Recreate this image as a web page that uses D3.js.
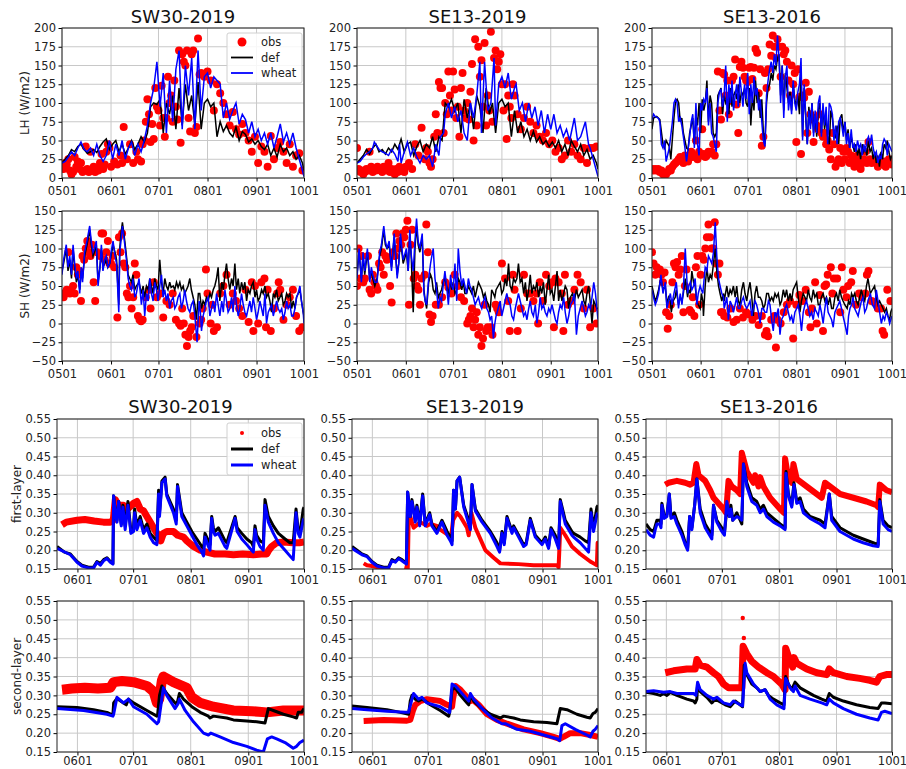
<!DOCTYPE html>
<html>
<head>
<meta charset="utf-8">
<script src="https://cdn.jsdelivr.net/npm/d3@7"></script>
<style>
body { margin: 0; background: #fff; }
svg { display: block; }
text { font-family: "DejaVu Sans", sans-serif; }
</style>
</head>
<body>
<div id="chart"></div>
<script>
// 站点与刻度
const sites = ['SW30-2019', 'SE13-2019', 'SE13-2016'];
const fluxTickDays = [0, 31, 61, 92, 123, 153];
const fluxTickLabels = ['0501', '0601', '0701', '0801', '0901', '1001'];
const soilTickDays = [31, 61, 92, 123, 153];
const soilTickLabels = ['0601', '0701', '0801', '0901', '1001'];
const lhTicks = [0, 25, 50, 75, 100, 125, 150, 175, 200];
const shTicks = [-50, -25, 0, 25, 50, 75, 100, 125, 150];
const smTicks = [0.15, 0.20, 0.25, 0.30, 0.35, 0.40, 0.45, 0.50, 0.55];
const seriesNames = ['obs', 'def', 'wheat'];

// LH —— [日序(0=0501), 值]
const lhObs1 = [[0,15],[1,12],[2,20],[3,18],[4,25],[5,10],[6,5],[7,8],[8,28],[9,15],[10,22],[11,12],[12,20],[13,8],[14,10],[15,42],[16,12],[17,8],[18,35],[19,10],[20,15],[21,8],[22,12],[23,10],[24,20],[25,32],[26,12],[27,18],[28,35],[29,45],[30,40],[31,15],[33,22],[35,18],[37,30],[38,20],[39,68],[41,25],[43,45],[45,20],[47,35],[48,25],[50,22],[51,45],[52,50],[53,75],[54,105],[55,85],[56,48],[57,72],[58,52],[59,120],[60,95],[61,90],[62,70],[63,123],[64,80],[65,55],[66,80],[67,135],[68,100],[69,110],[70,75],[71,130],[72,95],[73,78],[74,170],[75,47],[76,165],[77,155],[78,150],[79,170],[80,80],[81,62],[82,165],[83,170],[84,60],[85,68],[86,186],[87,138],[88,140],[90,135],[92,142],[94,130],[96,90],[98,125],[100,113],[102,100],[104,85],[106,70],[108,88],[110,65],[112,58],[114,72],[116,60],[118,50],[120,35],[122,55],[124,20],[126,42],[128,35],[130,15],[132,56],[134,25],[136,40],[138,48],[140,35],[142,20],[144,45],[146,15],[148,30],[150,33],[152,10]];
const lhDef1 = [[0,20],[2,25],[4,30],[6,38],[8,35],[10,42],[12,45],[14,38],[16,33],[18,35],[20,38],[22,34],[24,42],[26,48],[28,52],[30,38],[32,45],[34,50],[36,35],[38,45],[40,32],[42,40],[44,50],[46,38],[48,45],[50,55],[52,48],[54,60],[56,95],[58,100],[60,98],[62,105],[64,60],[66,100],[68,85],[70,110],[72,65],[74,120],[76,70],[78,125],[80,90],[82,110],[84,70],[86,128],[88,65],[90,100],[92,105],[94,95],[96,100],[98,55],[100,75],[102,62],[104,70],[106,60],[108,55],[110,68],[112,50],[114,62],[116,58],[118,48],[120,52],[122,45],[124,50],[126,42],[128,38],[130,45],[132,30],[134,40],[136,28],[138,45],[140,35],[142,40],[144,30],[146,35],[148,25],[150,30],[152,20],[153,10]];
const lhWheat1 = [[0,20],[2,22],[4,28],[6,35],[8,30],[10,40],[12,48],[14,38],[16,35],[18,40],[20,30],[22,45],[24,30],[26,22],[28,30],[30,50],[32,25],[34,45],[36,30],[38,50],[40,25],[42,40],[44,48],[46,30],[48,45],[50,35],[52,50],[54,70],[56,100],[58,120],[60,155],[62,95],[64,140],[66,60],[68,130],[70,75],[72,145],[74,170],[76,65],[78,150],[80,110],[82,160],[84,65],[86,170],[88,90],[90,135],[92,140],[94,120],[96,135],[98,130],[100,125],[102,80],[104,100],[106,78],[108,90],[110,100],[112,72],[114,85],[116,78],[118,60],[120,75],[122,55],[124,65],[126,50],[128,60],[130,45],[132,60],[134,40],[136,55],[138,72],[140,48],[142,60],[144,45],[146,60],[148,40],[150,25],[152,10],[153,2]];

const lhObs2 = [[0,40],[1,12],[2,8],[3,10],[4,5],[5,8],[6,12],[7,10],[8,35],[9,15],[10,8],[11,12],[12,10],[13,15],[14,12],[15,10],[16,8],[17,15],[18,12],[19,10],[20,20],[21,8],[22,12],[23,10],[24,5],[25,12],[26,8],[27,15],[28,10],[29,12],[30,8],[31,15],[33,20],[35,12],[37,45],[39,30],[41,67],[43,25],[44,40],[45,35],[46,20],[47,15],[48,25],[49,55],[50,85],[51,60],[52,128],[53,120],[54,120],[55,60],[56,100],[57,85],[58,142],[59,110],[60,90],[61,142],[62,118],[63,80],[64,95],[65,55],[66,120],[67,140],[68,90],[69,80],[70,100],[71,78],[72,115],[73,152],[74,50],[75,185],[76,70],[77,175],[78,135],[79,157],[80,95],[81,180],[82,70],[83,110],[84,90],[85,195],[86,75],[87,160],[88,170],[89,145],[90,155],[91,165],[92,125],[93,90],[94,125],[95,52],[96,110],[97,95],[98,80],[99,125],[100,110],[102,85],[104,65],[106,80],[108,95],[110,75],[112,60],[114,70],[116,55],[118,50],[120,60],[122,45],[124,50],[126,35],[128,40],[130,25],[132,30],[134,50],[136,35],[138,45],[140,30],[142,25],[144,40],[146,20],[148,40],[150,40],[152,42]];
const lhDef2 = [[0,20],[2,25],[4,30],[6,38],[8,32],[10,40],[12,45],[14,35],[16,38],[18,32],[20,40],[22,35],[24,45],[26,38],[28,52],[30,35],[32,45],[34,48],[36,30],[38,42],[40,50],[42,35],[44,45],[46,40],[48,55],[50,35],[52,55],[54,50],[56,100],[58,95],[60,105],[62,90],[64,100],[66,60],[68,105],[70,80],[72,100],[74,65],[76,110],[78,95],[80,60],[82,120],[84,85],[86,100],[88,60],[90,100],[92,105],[94,95],[96,100],[98,55],[100,90],[102,60],[104,75],[106,55],[108,65],[110,50],[112,62],[114,48],[116,55],[118,45],[120,50],[122,42],[124,48],[126,40],[128,50],[130,35],[132,45],[134,30],[136,50],[138,42],[140,35],[142,45],[144,30],[146,38],[148,25],[150,30],[152,20],[153,12]];
const lhWheat2 = [[0,20],[2,22],[4,28],[6,32],[8,35],[10,40],[11,48],[14,38],[16,35],[18,33],[20,30],[22,38],[24,32],[26,22],[27,45],[28,20],[30,35],[32,48],[34,30],[36,40],[38,28],[40,20],[42,30],[44,25],[46,30],[48,15],[50,45],[52,30],[53,55],[55,60],[56,85],[58,100],[60,80],[62,95],[64,75],[66,90],[68,60],[70,50],[72,100],[74,80],[76,110],[78,155],[79,60],[81,155],[83,90],[85,100],[87,160],[88,70],[90,125],[92,135],[94,120],[96,140],[98,105],[100,120],[101,125],[103,90],[105,100],[107,75],[109,100],[111,80],[113,95],[115,70],[117,90],[119,60],[121,85],[123,65],[125,85],[127,60],[129,70],[131,55],[133,65],[135,50],[138,80],[140,50],[142,55],[145,75],[147,45],[148,40],[150,25],[153,2]];

const lhObs3 = [[0,12],[1,10],[2,12],[3,10],[4,12],[5,8],[6,10],[7,5],[8,3],[9,5],[10,8],[11,12],[12,10],[13,15],[14,18],[15,20],[16,22],[17,25],[18,28],[19,25],[20,20],[21,30],[22,28],[23,22],[24,30],[25,35],[26,28],[27,30],[28,50],[29,25],[30,35],[31,30],[32,65],[33,32],[34,28],[35,30],[36,35],[37,33],[38,35],[39,45],[40,30],[41,45],[42,142],[43,90],[44,78],[45,140],[46,138],[47,110],[48,130],[49,85],[50,103],[51,130],[52,135],[53,158],[54,98],[55,60],[56,148],[57,155],[58,147],[59,135],[60,130],[61,128],[62,147],[63,148],[64,132],[65,147],[66,172],[67,167],[68,113],[69,145],[70,43],[71,55],[72,140],[73,120],[74,145],[75,178],[76,163],[77,190],[78,175],[79,160],[80,185],[81,175],[82,135],[83,175],[84,165],[85,170],[86,155],[87,130],[88,110],[89,150],[90,125],[91,140],[92,48],[93,145],[94,108],[95,32],[96,110],[97,107],[98,127],[99,60],[100,115],[101,85],[102,78],[103,48],[104,80],[105,70],[106,65],[107,85],[108,60],[109,55],[110,60],[111,45],[112,50],[113,38],[114,25],[115,60],[116,45],[117,15],[118,20],[119,25],[120,40],[121,20],[122,35],[123,25],[124,40],[125,35],[126,20],[127,30],[128,25],[129,15],[130,20],[131,30],[132,25],[133,12],[134,20],[135,25],[136,35],[137,20],[138,48],[139,25],[140,20],[141,22],[142,25],[143,20],[144,15],[145,22],[146,20],[147,18],[148,22],[149,15],[150,20],[151,25],[152,22],[153,18]];
const lhDef3 = [[0,65],[1,80],[3,82],[5,78],[7,45],[8,40],[9,50],[11,42],[12,25],[14,80],[15,102],[16,105],[17,100],[18,75],[19,80],[20,60],[22,40],[23,38],[24,60],[25,70],[26,80],[27,45],[28,85],[29,70],[30,100],[31,60],[32,105],[33,90],[34,100],[35,130],[36,75],[37,110],[38,100],[39,60],[40,55],[41,60],[42,110],[43,115],[44,120],[45,85],[46,110],[47,100],[48,105],[49,85],[50,120],[51,95],[52,110],[53,115],[54,105],[55,125],[56,100],[57,115],[58,110],[59,120],[60,100],[61,95],[62,120],[63,70],[64,110],[65,90],[66,130],[67,100],[68,115],[69,80],[70,105],[71,60],[72,45],[73,100],[74,120],[75,125],[76,140],[77,130],[78,150],[79,145],[80,160],[81,165],[82,110],[83,150],[84,90],[85,140],[86,120],[87,100],[88,115],[89,90],[90,125],[91,105],[92,95],[93,110],[94,85],[95,145],[96,55],[97,120],[98,80],[99,45],[100,95],[101,70],[102,100],[103,60],[104,85],[105,55],[106,90],[107,100],[108,60],[109,95],[110,65],[111,80],[112,55],[113,45],[114,90],[115,80],[116,60],[117,55],[118,70],[119,45],[120,80],[121,85],[122,60],[123,75],[124,50],[125,65],[126,40],[127,55],[128,45],[129,35],[130,45],[131,30],[132,40],[133,25],[134,45],[135,35],[136,40],[137,30],[138,50],[139,35],[140,40],[141,25],[142,35],[143,20],[144,30],[145,15],[146,35],[147,25],[148,45],[149,40],[150,50],[151,35],[152,25],[153,30]];
const lhWheat3 = [[0,78],[1,85],[2,82],[4,80],[5,75],[6,45],[7,40],[8,50],[9,22],[11,40],[13,75],[14,100],[15,105],[16,100],[17,75],[18,80],[19,70],[21,40],[22,22],[24,55],[25,75],[26,85],[27,40],[28,100],[29,45],[30,30],[31,100],[32,90],[33,105],[34,100],[35,120],[36,70],[37,100],[38,60],[39,55],[40,45],[41,35],[42,100],[43,115],[44,118],[45,95],[46,110],[47,150],[48,75],[49,125],[50,100],[51,130],[52,90],[53,110],[54,125],[55,95],[56,135],[57,115],[58,95],[59,125],[60,105],[61,140],[62,85],[63,125],[64,100],[65,135],[66,110],[67,120],[68,90],[69,105],[70,75],[71,50],[72,42],[73,110],[74,130],[75,145],[76,155],[77,140],[78,165],[79,150],[80,190],[81,160],[82,100],[83,150],[84,80],[85,135],[86,150],[87,90],[88,110],[89,85],[90,130],[91,100],[92,90],[93,115],[94,125],[95,160],[96,50],[97,125],[98,85],[99,45],[100,90],[101,65],[102,100],[103,55],[104,90],[105,60],[106,100],[107,110],[108,55],[109,100],[110,70],[111,95],[112,45],[113,100],[114,95],[115,85],[116,50],[117,70],[118,45],[119,75],[120,80],[121,70],[122,55],[123,75],[124,45],[125,60],[126,40],[127,65],[128,40],[129,45],[130,35],[131,50],[132,40],[133,45],[134,30],[135,45],[136,35],[137,50],[138,55],[139,45],[140,58],[141,40],[142,30],[143,35],[144,20],[145,30],[146,25],[147,45],[148,52],[149,48],[150,30],[151,45],[152,40],[153,35]];

// SH
const shObs1 = [[0,40],[1,35],[2,40],[3,45],[4,95],[5,40],[6,45],[7,50],[8,40],[9,75],[10,65],[11,70],[12,30],[13,90],[14,85],[15,100],[16,110],[17,95],[18,90],[19,105],[20,55],[21,30],[22,95],[24,90],[25,120],[26,120],[27,85],[28,95],[29,110],[30,80],[31,80],[32,90],[33,75],[35,8],[36,115],[37,95],[38,120],[39,80],[40,75],[41,40],[42,35],[43,50],[44,20],[45,35],[46,80],[47,65],[48,10],[49,5],[50,3],[51,5],[53,35],[55,45],[56,20],[58,55],[60,35],[62,40],[64,8],[66,30],[68,25],[70,40],[72,5],[74,0],[75,-3],[76,20],[77,0],[78,-15],[79,-30],[80,-18],[81,-10],[82,-5],[83,10],[85,-18],[87,0],[88,5],[89,20],[91,72],[92,40],[94,0],[95,25],[96,-10],[98,-5],[100,40],[102,50],[104,65],[106,25],[108,40],[110,30],[112,20],[114,10],[116,45],[118,2],[120,55],[121,-10],[122,50],[124,0],[126,55],[128,60],[129,-5],[130,45],[132,-10],[134,20],[136,40],[137,55],[138,45],[140,5],[142,25],[144,35],[146,45],[148,10],[150,-10],[152,-5]];
const shDef1 = [[0,70],[1,80],[2.7,100],[3.8,70],[4.9,85],[6,60],[7,100],[8,75],[9.1,55],[10,65],[11.2,45],[12.2,70],[13,60],[14.3,90],[15.8,105],[17.5,125],[18.5,105],[19.6,90],[20.5,95],[21.7,105],[22.8,55],[24,75],[24.9,100],[25.9,75],[27,80],[28,85],[29,75],[30.2,80],[31,90],[32.3,105],[33.5,95],[34.5,85],[35.9,25],[36.5,100],[37.3,120],[38.2,135],[39.7,110],[41,85],[41.8,65],[42.8,60],[43.9,55],[44.9,65],[46,45],[47,50],[48.7,55],[50.2,40],[51.3,50],[52.3,35],[53.4,50],[54.5,45],[55.5,60],[56.5,50],[57.6,40],[58.6,60],[59.7,50],[60.7,45],[61.8,85],[62.9,55],[63.9,40],[65,60],[66,50],[67,45],[68.1,55],[69,48],[70.3,50],[71.3,45],[72.4,55],[73.4,48],[74.5,55],[75.5,45],[76.6,50],[77.6,40],[78.7,45],[79.7,50],[80.8,60],[81.8,45],[82.9,35],[84,25],[85,5],[86.2,40],[87.1,40],[88.2,20],[89.2,30],[90.3,25],[91.3,35],[92.4,30],[93.5,40],[94.5,35],[95.6,45],[96.6,50],[97.7,60],[98.7,75],[99.8,30],[101,55],[102,45],[103,65],[104,80],[105,60],[106.1,45],[107.2,60],[108.2,50],[109.3,80],[110.3,45],[111.4,60],[112.4,40],[113.5,55],[114.6,45],[115.6,55],[116.7,30],[117.7,45],[118.8,40],[119.8,50],[120.9,55],[122,35],[123,45],[124,30],[125.1,35],[126.2,45],[127.2,40],[128.3,50],[129.3,35],[130.4,40],[131.4,30],[132.5,15],[133.6,40],[134.6,35],[135.7,45],[136.7,30],[137.8,35],[138.9,40],[139.9,25],[141,30],[142,40],[143,35],[144.1,40],[145.2,20],[146.2,30],[147.3,20],[148.3,35],[149.3,40],[150.4,45],[151.4,30],[152.5,15],[153,10]];
const shWheat1 = [[0,65],[1,85],[2.7,105],[3.8,75],[4.9,90],[6,65],[7,105],[8,80],[9.1,60],[10,70],[11.2,40],[12.2,75],[13,55],[14.3,95],[15.8,110],[17.5,130],[18.5,110],[19.6,95],[20.5,100],[21.7,110],[22.8,50],[24,75],[24.9,105],[25.9,70],[27,85],[28,90],[29,75],[30.2,80],[31,95],[32.3,110],[33.5,90],[34.5,80],[35.9,15],[36.5,95],[37.3,110],[38.2,130],[39.7,105],[41,80],[41.8,60],[42.8,50],[43.9,45],[44.9,60],[46,35],[47,40],[48.7,60],[50.2,25],[51.3,45],[52.3,10],[53.4,40],[54.5,30],[55.5,60],[56.5,40],[57.6,30],[58.6,55],[59.7,45],[60.7,30],[61.8,50],[62.9,65],[63.9,35],[65,45],[66,30],[67,40],[68.1,20],[69,30],[70.3,35],[71.3,20],[72.4,25],[73.4,35],[74.5,40],[75.5,20],[76.6,30],[77.6,45],[78.7,30],[79.7,20],[80.8,15],[81.8,25],[82.9,30],[84,10],[85.4,-25],[86.7,30],[87.5,15],[88.2,-10],[89.2,10],[90.3,20],[91.3,30],[92.4,35],[93.5,10],[94.5,20],[95.6,30],[96.6,15],[97.7,40],[98.7,25],[99.8,10],[101,30],[102,15],[103,45],[104,30],[105,15],[106.1,20],[107.2,35],[108.2,15],[109.3,50],[110.3,25],[111.4,10],[112.4,20],[113.5,40],[114.6,25],[115.6,15],[116.7,10],[117.7,20],[118.8,30],[119.8,15],[120.9,35],[122,20],[123,5],[124,15],[125.1,30],[126.2,20],[127.2,10],[128.3,40],[129.3,0],[130.4,15],[131.4,20],[132.5,25],[133.6,10],[134.6,20],[135.7,30],[136.7,20],[137.8,15],[138.9,20],[139.9,5],[141,15],[142,30],[143,20],[144.1,25],[145.2,10],[146.2,10],[147.3,20],[148.3,35],[149.3,40],[150.4,50],[151.4,30],[152.5,15],[153,0]];

const shObs2 = [[0,50],[1,100],[2,60],[3,90],[4,55],[5,60],[7,90],[8,45],[9,40],[10,65],[11,55],[12,50],[13,45],[14,80],[15,75],[16,95],[17,65],[18,90],[19,85],[20,88],[21,50],[22,28],[23,95],[24,90],[25,120],[26,100],[27,110],[28,105],[29,120],[30,115],[31,125],[32,137],[33,25],[34,105],[35,125],[36,60],[37,65],[38,50],[39,45],[40,25],[41,60],[43,65],[44,132],[45,95],[46,12],[47,2],[48,10],[50,25],[52,25],[54,35],[56,55],[58,48],[60,40],[62,65],[64,50],[66,35],[68,30],[70,0],[71,5],[72,10],[73,20],[74,-5],[75,5],[76,15],[77,-15],[78,-5],[79,-30],[80,-20],[81,25],[82,-10],[83,-5],[85,-5],[86,-15],[88,25],[89,20],[90,15],[92,80],[94,60],[96,30],[97,-10],[99,65],[100,45],[102,-10],[104,20],[106,65],[108,40],[110,40],[112,30],[114,40],[115,0],[116,55],[118,30],[120,65],[122,50],[124,55],[125,-5],[126,60],[128,55],[130,40],[131,-10],[132,65],[134,25],[136,30],[138,45],[140,65],[142,55],[144,20],[146,45],[148,-5],[150,20],[152,0]];
const shDef2 = [[0,65],[1.3,95],[2.8,60],[3.8,90],[4.9,65],[6.6,95],[8.1,60],[9.1,70],[10,60],[11.3,50],[12.7,60],[14.4,90],[15.5,100],[17,125],[18,105],[19.1,100],[20.4,105],[21.9,75],[23.6,115],[25.5,65],[26.5,80],[27.6,115],[28.5,95],[29.3,80],[31.4,95],[32.5,70],[33.5,120],[34.5,85],[35.7,15],[36.8,100],[37.8,130],[38.8,105],[39.9,95],[41.4,115],[42.5,45],[43.3,30],[44.2,20],[45.5,55],[46.7,65],[47.5,60],[48.4,45],[49.5,40],[50.5,55],[51.6,35],[52.6,40],[53.7,45],[54.7,55],[55.8,60],[56.9,50],[58,40],[59.4,55],[60.2,45],[61.1,55],[62.2,40],[63.3,45],[64.3,60],[65.4,55],[66.5,45],[67.5,55],[68.5,40],[69.6,40],[70.7,50],[71.7,45],[72.8,40],[73.9,50],[75,35],[76,45],[77.1,55],[78.2,50],[79.2,45],[80.3,35],[81.3,40],[82.4,30],[83.5,25],[84.5,15],[85.5,45],[86.6,40],[87.5,35],[88.3,45],[89.6,50],[90.9,55],[91.9,40],[93,45],[94,60],[95.1,50],[96.2,80],[97.2,50],[98.3,45],[99.4,60],[100.5,55],[101.5,60],[102.5,80],[103.6,55],[104.7,60],[105.8,40],[106.9,55],[107.9,30],[109,45],[110,65],[111,40],[112,50],[113.2,45],[114.2,55],[115.3,35],[116.3,50],[117.3,40],[118.4,55],[119.5,25],[120.6,45],[121.7,65],[122.7,40],[123.8,45],[124.9,30],[126,50],[127,70],[128,30],[129,45],[130.1,30],[131.2,40],[132.2,50],[133.3,45],[134.4,20],[135.5,35],[136.8,40],[138,30],[139.3,45],[140.5,35],[141.7,40],[142.9,45],[144,30],[145,25],[146,40],[147.1,50],[148.2,25],[149.2,0],[150.3,30],[151.4,25],[152.3,20],[153,20]];
const shWheat2 = [[0,60],[1.3,100],[2.8,55],[3.8,95],[4.9,70],[6.6,100],[8.1,55],[9.1,75],[10,65],[11.3,55],[12.7,55],[14.4,95],[15.5,105],[17,130],[18,110],[19.1,100],[20.4,110],[21.9,70],[23.6,120],[25.5,60],[26.5,80],[27.6,120],[28.5,100],[29.3,85],[31.4,100],[32.5,70],[33.5,125],[34.5,90],[35.7,70],[36.8,110],[37.8,140],[38.8,110],[39.9,100],[41.4,120],[42.5,40],[43.3,30],[44.2,25],[45.5,60],[46.7,80],[47.5,90],[48.4,100],[49.5,60],[50.5,45],[51.6,20],[52.6,35],[53.7,30],[54.7,50],[55.8,70],[56.9,50],[58,25],[59.4,65],[60.2,50],[61.1,45],[62.2,80],[63.3,30],[64.3,100],[65.4,70],[66.5,50],[67.5,60],[68.5,50],[69.6,40],[70.7,60],[71.7,50],[72.8,45],[73.9,35],[75,25],[76,30],[77.1,35],[78.2,25],[79.2,20],[80.3,30],[81.3,35],[82.4,20],[83.5,15],[84.5,5],[85.5,10],[86.6,-20],[87.5,0],[88.3,10],[89.6,20],[90.9,30],[91.9,10],[93,20],[94,30],[95.1,40],[96.2,30],[97.2,25],[98.3,10],[99.4,5],[100.5,20],[101.5,30],[102.5,40],[103.6,30],[104.7,20],[105.8,10],[106.9,15],[107.9,5],[109,20],[110,30],[111,15],[112,10],[113.2,25],[114.2,0],[115.3,15],[116.3,35],[117.3,20],[118.4,25],[119.5,15],[120.6,10],[121.7,20],[122.7,15],[123.8,25],[124.9,15],[126,5],[127,0],[128,15],[129,25],[130.1,20],[131.2,35],[132.2,15],[133.3,0],[134.4,10],[135.5,25],[136.8,30],[138,40],[139.3,-15],[140.5,10],[141.7,20],[142.9,30],[144,20],[145,10],[146,15],[147.1,25],[148.2,20],[149.2,35],[150.3,55],[151.4,40],[152.3,20],[153,5]];

const shObs3 = [[0,95],[1,80],[2,65],[3,75],[4,68],[5,72],[6,65],[7,55],[8,68],[9,15],[10,-7],[11,10],[12,25],[13,55],[14,80],[15,75],[16,82],[17,65],[18,72],[19,90],[20,15],[21,50],[22,72],[24,18],[25,15],[26,35],[27,10],[28,75],[29,90],[30,25],[31,65],[32,90],[33,85],[34,100],[35,115],[36,132],[37,115],[38,100],[39,100],[40,135],[41,80],[42,65],[43,80],[44,15],[45,15],[46,10],[48,8],[50,20],[52,2],[54,5],[56,20],[58,8],[60,15],[62,12],[64,5],[66,10],[68,-2],[70,10],[72,-15],[73,-10],[74,-17],[76,5],[78,10],[79,-32],[80,5],[82,0],[84,15],[86,25],[88,30],[90,-20],[92,25],[94,38],[96,30],[98,45],[100,15],[101,-5],[102,20],[104,55],[105,0],[107,38],[109,-10],[110,50],[111,52],[112,65],[114,75],[115,40],[116,60],[118,60],[120,15],[121,75],[122,45],[124,35],[125,50],[127,55],[128,70],[130,25],[132,40],[134,35],[136,40],[137,65],[138,70],[140,30],[142,28],[144,20],[146,20],[147,-10],[148,-15],[150,45],[152,30]];
const shDef3 = [[0,50],[1,40],[2.1,30],[3,35],[4.2,45],[5.7,60],[7,45],[8.5,50],[9.5,25],[10.5,35],[11.7,30],[12.3,15],[13.5,30],[14.8,35],[15.5,45],[16.9,25],[18,35],[19.1,30],[20,40],[21.2,60],[22.7,35],[23.3,45],[24.4,40],[25.4,70],[26.5,55],[27.5,50],[28.6,30],[29.5,25],[30.7,20],[31.5,40],[32.4,30],[32.8,10],[33.9,50],[35,75],[36,55],[37.1,65],[38.1,60],[39.2,80],[40.3,100],[41.3,70],[42.4,50],[43.4,40],[44.5,30],[45.6,40],[46,30],[47.7,50],[48.7,35],[49.8,45],[50.8,40],[51.9,50],[53,35],[54,50],[55,30],[56.1,25],[57.2,45],[58.3,55],[59.3,40],[60.4,30],[61.5,45],[62.5,55],[63.6,35],[64.6,10],[65.7,40],[66.7,50],[67.8,35],[68.9,35],[70,30],[71,20],[72,25],[73.1,40],[74.2,40],[75.2,30],[76.3,35],[77.3,30],[78.4,40],[79.4,35],[80.5,40],[81.6,25],[82.6,30],[83.7,45],[84.8,35],[85.8,45],[86.9,30],[88,40],[89,30],[90,45],[91.1,50],[92.2,55],[93.2,35],[94.3,15],[95.3,30],[96.4,40],[97.5,35],[98.5,30],[99.6,45],[100.6,35],[101.7,30],[102.8,45],[103.8,35],[105,40],[106,25],[107,25],[108,35],[109.1,40],[110.2,30],[111.2,35],[112.3,25],[113.4,35],[114.5,20],[115.5,20],[116.6,35],[117.6,40],[118.7,30],[119.7,45],[120.8,35],[121.8,30],[122.9,25],[124.4,20],[125.3,30],[126.2,25],[127.2,40],[128.2,35],[129.2,40],[130.3,30],[131.4,25],[132.4,35],[133.5,45],[134.5,35],[135.6,30],[136.7,50],[137.7,60],[139.2,40],[140.5,45],[141.9,50],[143,35],[144.1,25],[145.1,30],[146.2,25],[147.3,20],[148.3,15],[149.4,20],[150.4,10],[151.5,5],[152.2,15],[153,20]];
const shWheat3 = [[0,45],[1,35],[2.1,25],[3,30],[4.2,40],[5.7,65],[7,40],[8.5,55],[9.5,20],[10.5,30],[11.7,40],[12.7,25],[14,40],[15.5,55],[16.9,20],[18,40],[19.1,25],[20,45],[21.2,100],[22.7,40],[23.5,50],[24.4,55],[25.4,45],[26.5,50],[27.5,60],[28.6,25],[29.5,40],[30.7,50],[31.5,45],[32.4,40],[33.9,75],[35,70],[36,90],[37.1,85],[38.1,80],[39.2,95],[40.3,135],[41.3,90],[42.4,60],[43.4,50],[44.5,40],[45.6,35],[46,20],[47.7,35],[48.7,5],[49.8,30],[50.8,25],[51.9,15],[53,25],[54,35],[55,20],[56.1,20],[57.2,30],[58.3,35],[59.3,25],[60.4,20],[61.5,25],[62.5,30],[63.6,10],[64.6,20],[65.7,30],[66.7,25],[67.8,15],[68.9,0],[70,20],[71,20],[72,15],[73.1,15],[74.2,30],[75.2,25],[76.3,5],[77.3,-10],[78.4,15],[79.4,10],[80.5,20],[81.6,-15],[82.6,5],[83.7,10],[84.8,20],[85.8,25],[86.9,15],[88,5],[89,10],[90,0],[91.1,15],[92.2,20],[93.2,25],[94.3,10],[95.3,-10],[96.4,15],[97.5,25],[98.5,30],[99.6,20],[100.6,10],[101.7,15],[102.8,5],[103.8,20],[105,15],[106,10],[107,25],[108,15],[109.1,0],[110.2,20],[111.2,35],[112.3,15],[113.4,10],[114.5,5],[115.5,-5],[116.6,15],[117.6,20],[118.7,25],[119.7,30],[120.8,20],[121.8,10],[122.9,0],[124.4,-15],[125.3,10],[126.2,20],[127.2,25],[128.2,35],[129.2,20],[130.3,15],[131.4,10],[132.4,20],[133.5,30],[134.5,35],[135.6,15],[136.7,20],[137.7,30],[139.2,40],[140.5,25],[141.9,20],[143,45],[144.1,30],[145.1,15],[146.2,0],[147.3,10],[148.3,5],[149.4,15],[150.4,10],[151.5,0],[152.2,5],[153,10]];

// 第一层土壤水分
const sm1Obs1 = [[22.7,.268],[25,.275],[30.8,.28],[35,.282],[40,.278],[45,.275],[48.7,.275],[50.3,.28],[51.4,.335],[53,.32],[55.8,.32],[58,.31],[61.2,.325],[63,.33],[64.8,.31],[66.6,.305],[68.4,.29],[70.2,.275],[72,.26],[73.8,.245],[75.2,.24],[75.9,.225],[77.3,.245],[79.1,.25],[82.7,.25],[85,.24],[88.1,.235],[89.9,.225],[93.5,.21],[97.1,.20],[100.6,.195],[105,.19],[110.5,.19],[115,.188],[120,.19],[125.7,.188],[130,.19],[132.9,.19],[134,.20],[135.6,.21],[138.3,.22],[142,.222],[147,.22],[150.5,.22],[153,.222]];
const sm1Def1 = [[20,.21],[24,.195],[27.2,.19],[28.1,.185],[30.8,.17],[33.4,.16],[37,.155],[39.7,.155],[41.5,.17],[43.3,.165],[45.1,.175],[46.9,.18],[48.7,.17],[50.1,.165],[50.5,.345],[51.4,.30],[52.3,.28],[53.2,.33],[54.6,.27],[55.5,.32],[56.7,.265],[58.2,.33],[59.8,.25],[61.2,.26],[61.8,.31],[63,.265],[64.8,.29],[66.6,.255],[68.4,.27],[70.2,.245],[72,.235],[73.8,.225],[74.7,.36],[75.2,.30],[76.5,.385],[78.2,.395],[79.1,.35],[82.7,.31],[84.2,.28],[84.9,.375],[87.2,.30],[89.9,.275],[92.6,.25],[95.3,.23],[98,.21],[98.9,.205],[99.7,.245],[101.5,.225],[102.4,.215],[103.3,.29],[104.2,.26],[105.1,.25],[106.9,.26],[110.5,.225],[111.4,.22],[115.9,.29],[117,.26],[119.5,.245],[122.2,.23],[124.8,.22],[125.7,.21],[126.6,.265],[127.5,.24],[129.3,.225],[131.1,.22],[132,.335],[133.8,.29],[136.5,.265],[139.2,.245],[142.8,.23],[145.4,.22],[147.2,.22],[148.7,.31],[149.9,.25],[150.8,.245],[152.6,.31],[153,.315]];
const sm1Wheat1 = [[20,.205],[27.2,.188],[30.8,.168],[33.4,.158],[37,.153],[39.7,.153],[41.5,.168],[43.3,.16],[45.1,.172],[46.9,.178],[48.7,.168],[50.1,.163],[50.5,.345],[51.4,.30],[52.3,.275],[53.2,.33],[54.6,.265],[55.5,.315],[56.7,.255],[58.2,.32],[59.8,.245],[61.2,.25],[61.8,.30],[63,.255],[64.8,.28],[66.6,.245],[68.4,.26],[70.2,.235],[72,.22],[73.8,.215],[74.7,.35],[75.2,.29],[76.5,.38],[78.2,.39],[79.1,.345],[82.7,.30],[84.2,.27],[84.9,.37],[87.2,.29],[89.9,.265],[92.6,.24],[95.3,.215],[98,.195],[98.9,.185],[99.7,.235],[101.5,.21],[102.4,.20],[103.3,.285],[104.2,.25],[105.1,.24],[106.9,.245],[110.5,.21],[111.4,.205],[115.9,.285],[117,.25],[119.5,.23],[122.2,.215],[124.8,.20],[125.7,.195],[126.6,.255],[127.5,.23],[129.3,.21],[131.1,.20],[132,.32],[133.8,.275],[136.5,.245],[139.2,.22],[142.8,.20],[145.4,.185],[147.2,.175],[148.7,.30],[149.9,.245],[150.8,.235],[152.6,.28],[153,.285]];

const sm1Obs2 = [[26.3,.165],[28.1,.16],[30.8,.158],[33.5,.155],[37.1,.152],[39,.148],[45,.14],[49,.145],[49.7,.16],[50.1,.14],[50.6,.27],[51.5,.29],[53.3,.26],[56.9,.275],[60.5,.265],[62.3,.27],[65.9,.265],[67.7,.255],[72.3,.24],[73.5,.23],[74.6,.28],[76.8,.30],[78.6,.29],[82.2,.26],[83.1,.24],[84.5,.30],[86.7,.26],[89.4,.23],[92.1,.20],[96.6,.18],[100.2,.165],[110,.163],[118.2,.16],[130.8,.16],[131.7,.155],[132.6,.26],[135.3,.24],[138.9,.21],[143.4,.19],[148.8,.17],[150.6,.165],[152.4,.16],[152.8,.22],[153,.215]];
const sm1Def2 = [[20,.21],[25.4,.19],[28.1,.185],[30.8,.17],[33.5,.16],[37.1,.155],[39.8,.155],[41.6,.175],[43.4,.17],[45.2,.18],[47,.175],[49.4,.165],[50.1,.355],[51.5,.29],[52.4,.335],[54.2,.28],[55.1,.32],[56.6,.27],[58.2,.35],[59.6,.27],[62,.30],[63.2,.27],[65.9,.25],[68.6,.28],[71.4,.25],[73.2,.235],[74.1,.225],[74.9,.36],[75.9,.31],[76.8,.385],[78.2,.395],[80.4,.32],[83.1,.28],[84,.26],[84.9,.375],[86.7,.31],[90.3,.28],[94.8,.25],[98.4,.22],[99.8,.20],[101.1,.25],[102.3,.22],[103.8,.29],[106.5,.25],[107.4,.265],[110.1,.24],[112.8,.215],[114.2,.22],[116.4,.285],[119.1,.24],[122.7,.22],[124.5,.235],[126.3,.21],[127.6,.26],[129.9,.24],[131.7,.21],[132.6,.335],[135.3,.28],[138.9,.25],[139.8,.245],[143.4,.235],[146.1,.225],[147.9,.22],[149.2,.31],[150.6,.26],[152.4,.315],[153,.32]];
const sm1Wheat2 = [[20,.205],[25.4,.188],[28.1,.183],[30.8,.168],[33.5,.158],[37.1,.153],[39.8,.153],[41.6,.172],[43.4,.168],[45.2,.178],[47,.172],[49.4,.163],[50.1,.355],[51.5,.29],[52.4,.33],[54.2,.275],[55.1,.315],[56.6,.265],[58.2,.345],[59.6,.265],[62,.295],[63.2,.265],[65.9,.245],[68.6,.275],[71.4,.24],[73.2,.225],[74.1,.215],[74.9,.36],[75.9,.31],[76.8,.385],[78.2,.395],[80.4,.315],[83.1,.27],[84,.255],[84.9,.375],[86.7,.305],[90.3,.275],[94.8,.245],[98.4,.21],[99.8,.195],[101.1,.245],[102.3,.215],[103.8,.285],[106.5,.245],[107.4,.26],[110.1,.235],[112.8,.21],[114.2,.215],[116.4,.28],[119.1,.235],[122.7,.215],[124.5,.23],[126.3,.205],[127.6,.255],[129.9,.23],[131.7,.205],[132.6,.33],[135.3,.27],[138.9,.24],[139.8,.235],[143.4,.22],[146.1,.205],[147.9,.195],[149.2,.30],[150.6,.25],[152.4,.295],[153,.30]];

const sm1Obs3 = [[30.4,.375],[32.2,.38],[36.7,.385],[41.2,.38],[43.9,.375],[45.7,.38],[47.2,.43],[48.4,.40],[52,.385],[54.7,.36],[56.5,.34],[58.3,.33],[61.9,.31],[63.3,.30],[64.6,.385],[66.4,.37],[69.1,.36],[70.9,.35],[71.8,.46],[74.5,.41],[78.1,.38],[79,.40],[80.8,.37],[81.7,.395],[83.5,.37],[87.1,.34],[92.5,.31],[94.6,.30],[95.2,.445],[97,.39],[98.8,.38],[99.7,.43],[101.5,.39],[106.9,.37],[112.3,.35],[115,.34],[116.8,.38],[119.5,.37],[124.9,.35],[132.1,.34],[139.2,.33],[144.6,.32],[145.5,.315],[146.4,.375],[150,.36],[153,.355]];
const sm1Def3 = [[20,.27],[22.3,.255],[24.1,.25],[25,.265],[25.9,.28],[27.4,.28],[28.1,.27],[28.6,.325],[29.9,.29],[31.3,.295],[32.6,.35],[33.5,.29],[35.3,.30],[36.7,.28],[39.4,.25],[41.2,.22],[42.5,.205],[43.6,.29],[44.8,.26],[46.3,.32],[47.5,.39],[49.3,.31],[52,.27],[55.6,.24],[56.5,.32],[58.3,.28],[61,.26],[62.4,.245],[63.7,.31],[65.1,.29],[65.9,.32],[66.9,.28],[69.1,.30],[70.9,.28],[71.8,.27],[72.7,.43],[74.5,.38],[77.2,.34],[79.9,.33],[81.7,.31],[83.5,.32],[85.3,.30],[88.9,.285],[92.5,.27],[95.2,.26],[95.7,.41],[97,.35],[98.8,.32],[100,.38],[101.5,.33],[103.3,.34],[105.1,.31],[108.7,.29],[114.1,.28],[116.8,.27],[119.1,.35],[120.4,.29],[124.9,.26],[132.1,.24],[137.4,.23],[142.8,.22],[145.5,.215],[146.4,.335],[148.2,.28],[150.9,.265],[153,.26]];
const sm1Wheat3 = [[20,.255],[22.3,.24],[24.1,.235],[25,.255],[25.9,.27],[27.4,.27],[28.1,.26],[28.6,.32],[29.9,.285],[31.3,.29],[32.6,.35],[33.5,.285],[35.3,.29],[36.7,.27],[39.4,.24],[41.2,.215],[42.5,.20],[43.6,.29],[44.8,.255],[46.3,.32],[47.5,.39],[49.3,.30],[52,.26],[55.6,.23],[56.5,.32],[58.3,.275],[61,.25],[62.4,.24],[63.7,.33],[65.1,.29],[65.9,.31],[66.9,.28],[69.1,.29],[70.9,.285],[71.8,.28],[72.7,.43],[74.5,.37],[77.2,.33],[79.9,.32],[81.7,.30],[83.5,.31],[85.3,.29],[88.9,.275],[92.5,.265],[95.2,.255],[95.7,.405],[97,.345],[98.8,.315],[100,.375],[101.5,.325],[103.3,.33],[105.1,.30],[108.7,.285],[114.1,.27],[116.8,.26],[119.1,.35],[120.4,.28],[124.9,.25],[132.1,.23],[137.4,.22],[142.8,.212],[145.5,.21],[146.4,.33],[148.2,.27],[150.9,.255],[153,.25]];

// 第二层土壤水分
const sm2Obs1 = [[22.7,.315],[28,.318],[35,.32],[42,.318],[48.7,.32],[50.5,.335],[55,.338],[61.2,.335],[68.4,.325],[72,.31],[73.8,.28],[75,.29],[76.5,.34],[77.3,.35],[82.7,.335],[89.9,.32],[92.6,.295],[97.1,.28],[104.2,.27],[115,.26],[125,.258],[132.9,.255],[141.9,.26],[153,.26]];
const sm2Def1 = [[20,.27],[30.8,.268],[39.7,.262],[46.9,.255],[50.1,.248],[50.5,.28],[52.3,.292],[55.8,.28],[57.3,.275],[58.5,.29],[61.2,.28],[68.4,.26],[73.8,.245],[74.2,.25],[75.2,.30],[76.5,.325],[79.1,.305],[82.7,.285],[84.5,.275],[85.9,.305],[88.1,.29],[92.6,.27],[97.1,.255],[101.5,.245],[102.4,.24],[104.2,.245],[111.4,.24],[115,.235],[122.2,.232],[127.5,.23],[132,.227],[133.8,.265],[136.5,.26],[141.9,.25],[147.2,.243],[149,.24],[149.9,.255],[151.7,.255],[153,.265]];
const sm2Wheat1 = [[20,.265],[34.3,.26],[46.9,.25],[50.1,.245],[50.5,.25],[52.3,.295],[55.8,.28],[58.5,.29],[61.2,.27],[68.4,.25],[73.8,.225],[74.7,.23],[77.3,.32],[79.1,.30],[83.6,.265],[85.4,.28],[85.9,.29],[89,.26],[93.5,.23],[98.9,.20],[101.5,.195],[102.8,.20],[107.8,.19],[115,.175],[122.2,.165],[127.5,.155],[131.1,.15],[133.3,.185],[135.6,.19],[138.3,.185],[142.8,.175],[147.2,.16],[149,.165],[150.8,.175],[152.6,.18],[153,.182]];

const sm2Obs2 = [[26.3,.232],[37.1,.235],[49.7,.233],[51.5,.235],[53,.26],[54.2,.275],[56.9,.285],[60.5,.29],[67.7,.285],[71.4,.275],[74.1,.27],[74.6,.29],[75.9,.325],[78.6,.315],[81.3,.30],[84,.285],[84.9,.29],[88.5,.275],[93,.25],[98.4,.235],[103.8,.225],[112.8,.21],[121.8,.20],[129,.19],[132.3,.185],[134.4,.19],[138,.20],[143.4,.20],[148.8,.195],[153,.19]];
const sm2Def2 = [[20,.272],[28.1,.268],[38.9,.262],[46.1,.255],[50.6,.25],[51.5,.285],[52.4,.30],[54.2,.29],[56,.285],[57.8,.29],[59.6,.285],[62.3,.275],[67.7,.26],[72.3,.245],[72.8,.255],[74.1,.315],[75.9,.32],[78.6,.30],[82.2,.28],[83.1,.275],[84,.30],[85.8,.285],[90.3,.265],[94.8,.25],[100.2,.24],[102,.245],[107.4,.24],[111,.235],[118.2,.23],[125.4,.228],[130.8,.225],[132.6,.265],[136.2,.262],[141.6,.25],[147,.242],[148.8,.24],[150.3,.252],[151.5,.255],[153,.265]];
const sm2Wheat2 = [[20,.265],[28.1,.262],[38.9,.258],[48.7,.255],[50.6,.255],[52.4,.29],[53.3,.305],[56,.29],[57.8,.295],[60.5,.28],[67.7,.27],[72.8,.255],[74.1,.33],[75.9,.325],[80.4,.30],[83.1,.285],[84,.305],[85.8,.29],[90.3,.265],[95.7,.24],[101.1,.225],[102.9,.225],[109.2,.21],[116.4,.205],[123.6,.195],[130.8,.185],[132.3,.18],[133.5,.22],[135.3,.225],[140.7,.21],[147,.195],[148.8,.19],[150.3,.205],[151.5,.21],[153,.22]];

const sm2Obs3 = [[30.4,.36],[34.9,.365],[42.1,.37],[46.6,.37],[47.5,.395],[49.3,.38],[52.9,.375],[56.5,.36],[59.2,.35],[61.9,.33],[64.6,.32],[71.8,.32],[72.5,.43],[74.5,.41],[77.2,.39],[80.8,.375],[85.3,.36],[88.9,.35],[93.4,.33],[95.2,.315],[95.5,.425],[97.9,.39],[99.3,.375],[100,.40],[101.5,.385],[106.9,.37],[112.3,.36],[117.7,.355],[119.1,.37],[121.3,.36],[128.5,.35],[135.6,.345],[141,.34],[144.6,.335],[146.4,.35],[150,.355],[153,.355]];
const sm2ObsSpikes3 = [[72.3,.505],[72.9,.452]];
const sm2Def3 = [[20,.308],[24.1,.305],[27.7,.30],[29.5,.305],[31.3,.30],[33.1,.308],[36.7,.30],[42.1,.29],[45.7,.285],[46.6,.28],[47.5,.29],[47.9,.33],[49.3,.31],[52.9,.295],[55.6,.28],[57.4,.29],[59.2,.285],[62.8,.275],[65.5,.27],[67.3,.28],[68.2,.285],[70.9,.275],[72.2,.27],[73.1,.38],[74.5,.355],[77.2,.33],[79.9,.32],[81.7,.31],[84.4,.315],[86.2,.30],[88.9,.29],[92.5,.28],[94.6,.275],[95.5,.35],[97,.33],[98.8,.315],[100.6,.335],[103.3,.32],[106.9,.31],[110.5,.30],[115,.29],[117.7,.285],[119.1,.305],[121.3,.295],[126.7,.285],[133.8,.275],[141,.268],[145.5,.265],[147.3,.28],[149.1,.28],[153,.278]];
const sm2Wheat3 = [[20,.31],[24.1,.312],[29.5,.308],[33.1,.31],[36.7,.305],[45.7,.305],[47,.30],[47.9,.335],[49.3,.315],[52.9,.30],[56.5,.29],[58.3,.295],[61.9,.28],[65.5,.275],[67.3,.285],[70.9,.275],[72.2,.272],[73.6,.385],[74.5,.36],[78.1,.33],[81.7,.31],[84.4,.315],[87.1,.29],[90.7,.275],[94.6,.265],[95.5,.345],[97.9,.32],[99.7,.31],[100.6,.325],[103.3,.30],[108.7,.29],[115,.28],[117.7,.275],[119.1,.29],[121.3,.28],[126.7,.265],[133.8,.25],[141,.24],[145.5,.235],[147.3,.255],[149.1,.258],[153,.252]];

// 布局
const W = 906, H = 769;
const fluxCols = [[62, 304], [357, 598], [652, 892]];
const soilCols = [[57, 304], [352, 598], [646, 892]];
const colors = { obs: '#ff0000', def: '#000000', wheat: '#0000ff' };

const svg = d3.select('#chart').append('svg')
    .attr('width', W)
    .attr('height', H);
const defs = svg.append('defs');
let clipId = 0;

function drawPanel(p) {
    const x = d3.scaleLinear().domain(p.xDomain).range([p.left, p.right]);
    const y = d3.scaleLinear().domain(p.yDomain).range([p.bottom, p.top]);
    const g = svg.append('g');

    const cid = 'clip' + (clipId++);
    defs.append('clipPath').attr('id', cid).append('rect')
        .attr('x', p.left).attr('y', p.top)
        .attr('width', p.right - p.left).attr('height', p.bottom - p.top);

    // 网格
    g.append('g').selectAll('line').data(p.xTicks).enter().append('line')
        .attr('x1', d => x(d)).attr('x2', d => x(d))
        .attr('y1', p.top).attr('y2', p.bottom)
        .attr('stroke', '#c8c8c8').attr('stroke-width', 1);
    g.append('g').selectAll('line').data(p.yTicks).enter().append('line')
        .attr('x1', p.left).attr('x2', p.right)
        .attr('y1', d => y(d)).attr('y2', d => y(d))
        .attr('stroke', '#c8c8c8').attr('stroke-width', 1);

    // 数据
    const data = g.append('g').attr('clip-path', `url(#${cid})`);
    const line = d3.line().x(d => x(d[0])).y(d => y(d[1]));

    if (p.kind === 'flux') {
        data.selectAll('circle').data(p.obs).enter().append('circle')
            .attr('cx', d => x(d[0])).attr('cy', d => y(d[1]))
            .attr('r', 4).attr('fill', colors.obs);
        data.append('path').datum(p.def).attr('d', line)
            .attr('fill', 'none').attr('stroke', colors.def).attr('stroke-width', 1.5);
        data.append('path').datum(p.wheat).attr('d', line)
            .attr('fill', 'none').attr('stroke', colors.wheat).attr('stroke-width', 1.5);
    } else {
        data.append('path').datum(p.obs).attr('d', line)
            .attr('fill', 'none').attr('stroke', colors.obs)
            .attr('stroke-width', p.obsWidth).attr('stroke-linejoin', 'round');
        if (p.spikes) {
            data.selectAll('circle').data(p.spikes).enter().append('circle')
                .attr('cx', d => x(d[0])).attr('cy', d => y(d[1]))
                .attr('r', 2.2).attr('fill', colors.obs);
        }
        data.append('path').datum(p.def).attr('d', line)
            .attr('fill', 'none').attr('stroke', colors.def)
            .attr('stroke-width', 3).attr('stroke-linejoin', 'round');
        data.append('path').datum(p.wheat).attr('d', line)
            .attr('fill', 'none').attr('stroke', colors.wheat)
            .attr('stroke-width', 3).attr('stroke-linejoin', 'round');
    }

    // 坐标轴
    const labelOf = new Map(p.xTicks.map((d, i) => [d, p.xLabels[i]]));
    g.append('g')
        .attr('transform', `translate(0,${p.bottom})`)
        .call(d3.axisBottom(x).tickValues(p.xTicks).tickFormat(d => labelOf.get(d))
            .tickSize(3.5).tickPadding(p.xPad).tickSizeOuter(0))
        .call(a => a.select('.domain').remove())
        .call(a => a.selectAll('text').attr('fill', '#222'))
        .attr('font-size', 11.5).attr('font-family', '"DejaVu Sans", sans-serif');
    g.append('g')
        .attr('transform', `translate(${p.left},0)`)
        .call(d3.axisLeft(y).tickValues(p.yTicks).tickFormat(p.yFormat)
            .tickSize(3.5).tickPadding(2.5).tickSizeOuter(0))
        .call(a => a.select('.domain').remove())
        .call(a => a.selectAll('text').attr('fill', '#222'))
        .attr('font-size', 11.5).attr('font-family', '"DejaVu Sans", sans-serif');

    // 边框
    g.append('rect')
        .attr('x', p.left).attr('y', p.top)
        .attr('width', p.right - p.left).attr('height', p.bottom - p.top)
        .attr('fill', 'none').attr('stroke', '#222').attr('stroke-width', 1);

    if (p.title) {
        g.append('text')
            .attr('x', (p.left + p.right) / 2).attr('y', p.titleY)
            .attr('text-anchor', 'middle')
            .attr('font-size', 18).attr('fill', '#111')
            .text(p.title);
    }
    if (p.yLabel) {
        g.append('text')
            .attr('transform', `translate(${p.yLabelX},${(p.top + p.bottom) / 2}) rotate(-90)`)
            .attr('text-anchor', 'middle')
            .attr('font-size', 12).attr('fill', '#222')
            .text(p.yLabel);
    }
    if (p.legend) drawLegend(p.legend, p.kind);
}

function drawLegend(L, kind) {
    const g = svg.append('g');
    g.append('rect')
        .attr('x', L.x).attr('y', L.y).attr('width', 75).attr('height', L.h)
        .attr('rx', 2).attr('fill', '#fff').attr('fill-opacity', 0.85)
        .attr('stroke', '#d0d0d0');
    seriesNames.forEach((name, i) => {
        const cy = L.y + L.first + i * L.step;
        if (name === 'obs') {
            g.append('circle').attr('cx', L.x + 15).attr('cy', cy)
                .attr('r', kind === 'flux' ? 4.5 : 2).attr('fill', colors.obs);
        } else {
            g.append('line')
                .attr('x1', L.x + 4).attr('x2', L.x + 26)
                .attr('y1', cy).attr('y2', cy)
                .attr('stroke', colors[name]).attr('stroke-width', kind === 'flux' ? 1.8 : 3);
        }
        g.append('text').attr('x', L.x + 34).attr('y', cy + 4)
            .attr('font-size', 11.5).attr('fill', '#222').text(name);
    });
}

const lhSets = [[lhObs1, lhDef1, lhWheat1], [lhObs2, lhDef2, lhWheat2], [lhObs3, lhDef3, lhWheat3]];
const shSets = [[shObs1, shDef1, shWheat1], [shObs2, shDef2, shWheat2], [shObs3, shDef3, shWheat3]];
const sm1Sets = [[sm1Obs1, sm1Def1, sm1Wheat1], [sm1Obs2, sm1Def2, sm1Wheat2], [sm1Obs3, sm1Def3, sm1Wheat3]];
const sm2Sets = [[sm2Obs1, sm2Def1, sm2Wheat1], [sm2Obs2, sm2Def2, sm2Wheat2], [sm2Obs3, sm2Def3, sm2Wheat3]];
const sm1Width = [7, 4, 6];
const sm2Width = [10, 6, 7];

sites.forEach((site, i) => {
    const fx = fluxCols[i], sx = soilCols[i];
    drawPanel({
        kind: 'flux', left: fx[0], right: fx[1], top: 28, bottom: 178, xPad: 5.6,
        xDomain: [0, 153], yDomain: [0, 200],
        xTicks: fluxTickDays, xLabels: fluxTickLabels, yTicks: lhTicks, yFormat: d3.format('d'),
        obs: lhSets[i][0], def: lhSets[i][1], wheat: lhSets[i][2],
        title: site, titleY: 23,
        yLabel: i === 0 ? 'LH (W/m2)' : null, yLabelX: 29,
        legend: i === 0 ? { x: 227, y: 33, h: 50, first: 9, step: 15.5 } : null
    });
    drawPanel({
        kind: 'flux', left: fx[0], right: fx[1], top: 211, bottom: 361, xPad: 5.6,
        xDomain: [0, 153], yDomain: [-50, 150],
        xTicks: fluxTickDays, xLabels: fluxTickLabels, yTicks: shTicks, yFormat: d3.format('d'),
        obs: shSets[i][0], def: shSets[i][1], wheat: shSets[i][2],
        yLabel: i === 0 ? 'SH (W/m2)' : null, yLabelX: 29
    });
    drawPanel({
        kind: 'soil', left: sx[0], right: sx[1], top: 419, bottom: 569, xPad: 3,
        xDomain: [20, 153], yDomain: [0.15, 0.55],
        xTicks: soilTickDays, xLabels: soilTickLabels, yTicks: smTicks, yFormat: d3.format('.2f'),
        obs: sm1Sets[i][0], def: sm1Sets[i][1], wheat: sm1Sets[i][2], obsWidth: sm1Width[i],
        title: site, titleY: 413,
        yLabel: i === 0 ? 'first-layer' : null, yLabelX: 21,
        legend: i === 0 ? { x: 227, y: 423, h: 52, first: 10, step: 16 } : null
    });
    drawPanel({
        kind: 'soil', left: sx[0], right: sx[1], top: 601, bottom: 752, xPad: 1.5,
        xDomain: [20, 153], yDomain: [0.15, 0.55],
        xTicks: soilTickDays, xLabels: soilTickLabels, yTicks: smTicks, yFormat: d3.format('.2f'),
        obs: sm2Sets[i][0], def: sm2Sets[i][1], wheat: sm2Sets[i][2], obsWidth: sm2Width[i],
        spikes: i === 2 ? sm2ObsSpikes3 : null,
        yLabel: i === 0 ? 'second-layer' : null, yLabelX: 21
    });
});
</script>
</body>
</html>
